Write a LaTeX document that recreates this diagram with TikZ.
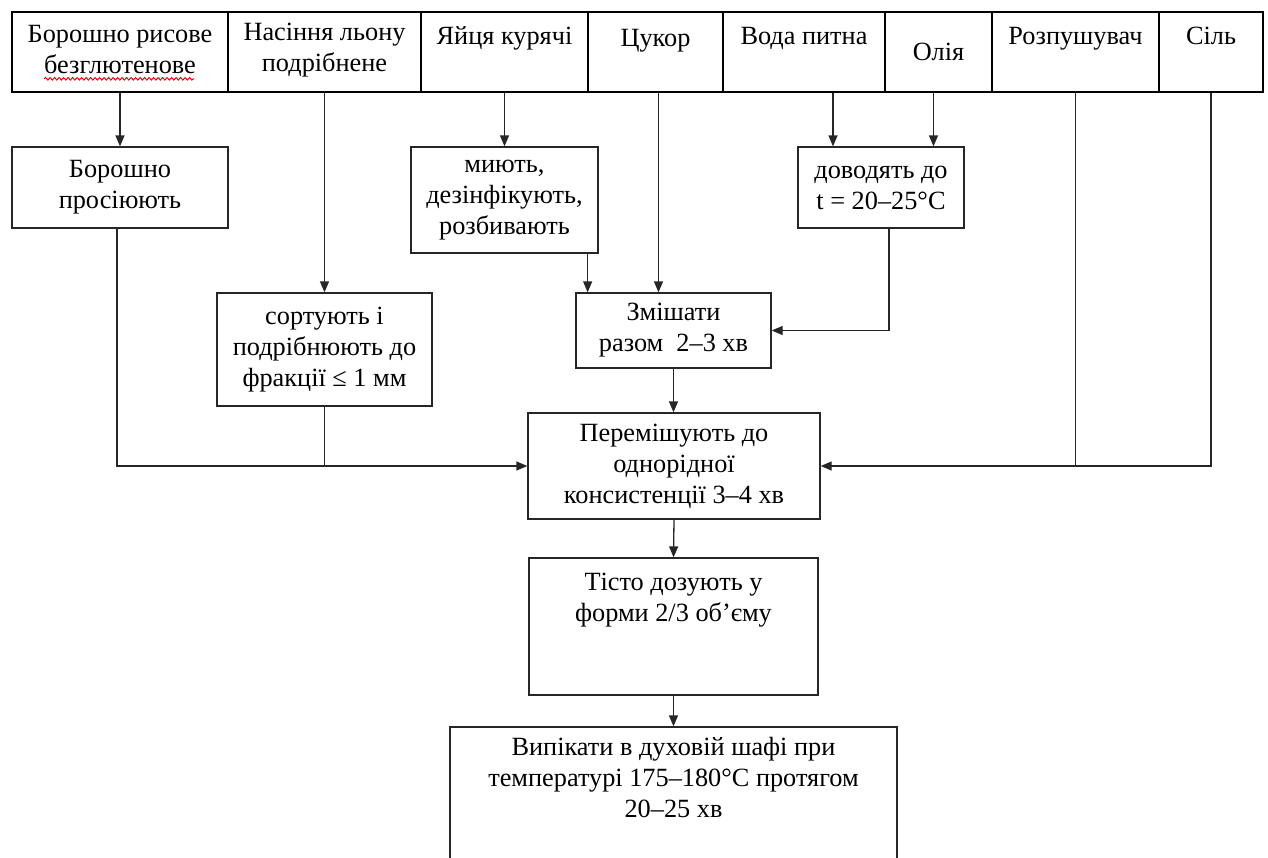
\documentclass[tikz,border=0pt]{standalone}
\usepackage{fontspec}
\setmainfont{Liberation Serif}
\usetikzlibrary{fit,arrows.meta,decorations.pathmorphing,calc}
\begin{document}
\begin{tikzpicture}[x=1pt,y=-1pt,
  font=\fontsize{26.3}{31}\selectfont,
  box/.style={draw=black!85, line width=1.3pt, inner sep=0pt},
  topbox/.style={box, line width=1.6pt, draw=black},
  txt/.style={inner sep=0pt, align=center},
  arr/.style={draw=black!85, line width=1.3pt, -{Triangle[length=11pt,width=9pt]}},
  ln/.style={draw=black!85, line width=1.3pt}]
\useasboundingbox (0,0) rectangle (1268,857);
% top row
\node[topbox, fit={(12,12) (228,92)}] (a1) {};
\node[txt] (t1) at ([yshift=2pt]a1.center) {Борошно рисове\\безглютенове};
\node[topbox, fit={(228,12) (421,92)}] (a2) {};
\node[txt] (t2) at ([yshift=2pt]a2.center) {Насіння льону\\подрібнене};
\node[topbox, fit={(421,12) (588,92)}] (a3) {};
\node[txt, anchor=base] (t3) at ([yshift=-33pt]a3.north) {Яйця курячі};
\node[topbox, fit={(588,12) (723,92)}] (a4) {};
\node[txt, anchor=base] (t4) at ([yshift=-35pt]a4.north) {Цукор};
\node[topbox, fit={(723,12) (885,92)}] (a5) {};
\node[txt, anchor=base] (t5) at ([yshift=-33pt]a5.north) {Вода питна};
\node[topbox, fit={(885,12) (992,92)}] (a6) {};
\node[txt, anchor=base] (t6) at ([yshift=-49pt]a6.north) {Олія};
\node[topbox, fit={(992,12) (1159,92)}] (a7) {};
\node[txt, anchor=base] (t7) at ([yshift=-33pt]a7.north) {Розпушувач};
\node[topbox, fit={(1159,12) (1263,92)}] (a8) {};
\node[txt, anchor=base] (t8) at ([yshift=-33pt]a8.north) {Сіль};
% spell-check underline
\coordinate (wl) at ($(a1.south west)+(33,-14)$);
\coordinate (wr) at ($(a1.south west)+(183,-14)$);
\draw[red!85!black, line width=0.9pt, decorate, decoration={snake, amplitude=1.3pt, segment length=4.5pt}] (wl) -- (wr);
% second level
\node[box, fit={(12,147) (228,228)}] (b1) {};
\node[txt] (tb1) at (b1.center) {Борошно\\просіюють};
\node[box, fit={(411,147) (598,253)}] (b3) {};
\node[txt] (tb3) at (b3.center) {миють,\\дезінфікують,\\розбивають};
\node[box, fit={(798,147) (964,228)}] (b5) {};
\node[txt] (tb5) at (b5.center) {доводять до\\t = 20–25°С};
\node[box, fit={(217,293) (432,406)}] (c2) {};
\node[txt] (tc2) at (c2.center) {сортують і\\подрібнюють до\\фракції ≤ 1 мм};
\node[box, fit={(576,293) (771,368)}] (c4) {};
\node[txt] (tc4) at (c4.center) {Змішати\\разом\ \ 2–3 хв};
\node[box, fit={(528,413) (820,519)}] (d) {};
\node[txt] (td) at (d.center) {Перемішують до\\однорідної\\консистенції 3–4 хв};
\node[box, fit={(529,558) (818,695)}] (e) {};
\node[txt, anchor=north] (te) at ([yshift=-16pt]e.north) {Тісто дозують у\\форми 2/3 об’єму};
\node[box, fit={(450,727) (897,880)}] (f) {};
\node[txt, anchor=north] (tf) at ([yshift=-11pt]f.north) {Випікати в духовій шафі при\\температурі 175–180°С протягом\\20–25 хв};
% connectors
\draw[arr] (a1.south) -- (b1.north);
\draw[arr] (a2.south) -- (a2.south |- c2.north);
\draw[arr] (a3.south) -- (b3.north);
\coordinate (a4o) at ([xshift=3pt]a4.south);
\draw[arr] (a4o) -- (a4o |- c4.north);
\coordinate (b3o) at ([xshift=-11pt]b3.south east);
\draw[arr] (b3o) -- (b3o |- c4.north);
\coordinate (a5o) at ([xshift=29pt]a5.south);
\draw[arr] (a5o) -- (a5o |- b5.north);
\coordinate (a6o) at ([xshift=-5pt]a6.south);
\draw[arr] (a6o) -- (a6o |- b5.north);
\coordinate (b5o) at ([xshift=8pt]b5.south);
\draw[arr] (b5o) |- (c4.east);
\draw[arr] (c4.south) -- (c4.south |- d.north);
\coordinate (b1o) at ([xshift=-3pt]b1.south);
\draw[arr] (b1o) |- (d.west);
\draw[ln] (c2.south) -- (c2.south |- d.west);
\draw[ln] (a7.south) -- (a7.south |- d.east);
\draw[arr] (a8.south) |- (d.east);
\draw[arr] (d.south) -- (e.north);
\draw[arr] (e.south) -- (e.south |- f.north);
\end{tikzpicture}
\end{document}
